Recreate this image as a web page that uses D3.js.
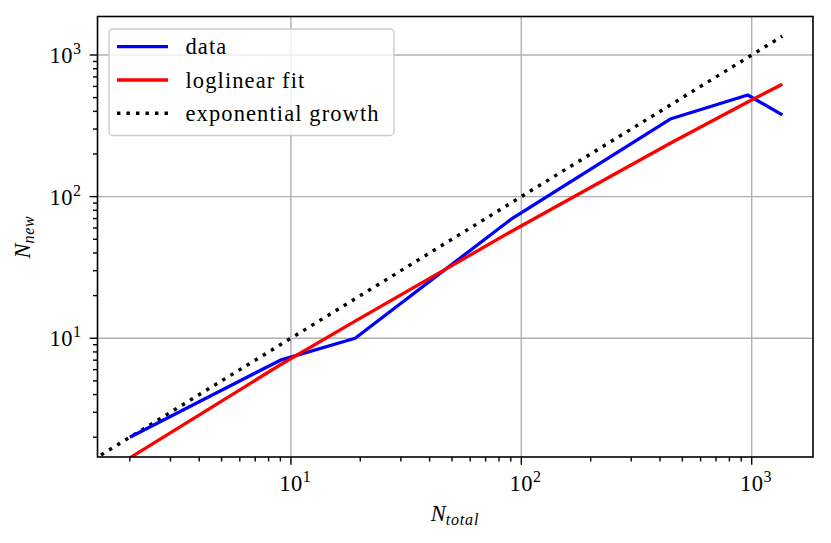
<!DOCTYPE html>
<html lang="en">
<head>
    <meta charset="UTF-8">
    <title>N_new vs N_total</title>
    <script src="https://d3js.org/d3.v7.min.js"></script>
    <style>
        body { margin: 0; background: #fff; }
        text { font-family: "Liberation Serif", "DejaVu Serif", serif; fill: #000; }
    </style>
</head>
<body>
<script>
// values
var nTotal = [2, 9, 19, 90, 443, 961, 1358];
var nNew = [2, 7, 10, 69, 353, 522, 378];
var fitNew = [1.43, 6.5, 13.2, 56.5, 238, 466, 621];
var expX = [1, 1358];
var majorTicks = [10, 100, 1000];
var legendLabels = ["data", "loglinear fit", "exponential growth"];

var W = 831, H = 543;
// plot box (note: "top" is reserved on window, so use pL/pR/pT/pB)
var pL = 97.5, pR = 813, pT = 16.5, pB = 457;

var svg = d3.select("body").append("svg")
    .attr("width", W)
    .attr("height", H);

var x = d3.scaleLog().domain([1.447, 1845]).range([pL, pR]);
var y = d3.scaleLog().domain([1.45, 1870]).range([pB, pT]);

// minor tick positions between the domain ends
function minorTicks(dom) {
    var out = [];
    for (var e = 0; e < 4; e++) {
        for (var m = 2; m < 10; m++) {
            var v = m * Math.pow(10, e);
            if (v >= dom[0] && v <= dom[1]) out.push(v);
        }
    }
    return out;
}

svg.append("defs").append("clipPath").attr("id", "plot")
    .append("rect")
    .attr("x", pL).attr("y", pT)
    .attr("width", pR - pL).attr("height", pB - pT);

// grid
var grid = svg.append("g").attr("stroke", "#b0b0b0").attr("stroke-width", 1.4);
grid.selectAll(".gx").data(majorTicks).enter().append("line")
    .attr("x1", d => x(d)).attr("x2", d => x(d))
    .attr("y1", pT).attr("y2", pB);
grid.selectAll(".gy").data(majorTicks).enter().append("line")
    .attr("y1", d => y(d)).attr("y2", d => y(d))
    .attr("x1", pL).attr("x2", pR);

// series
var line = d3.line().x(d => x(d[0])).y(d => y(d[1]));
var plot = svg.append("g").attr("clip-path", "url(#plot)").attr("fill", "none");

plot.append("path")
    .attr("d", line(expX.map(v => [v, v])))
    .attr("stroke", "#000")
    .attr("stroke-width", 3.4)
    .attr("stroke-dasharray", "3.4,6.1");

plot.append("path")
    .attr("d", line(nTotal.map((v, i) => [v, nNew[i]])))
    .attr("stroke", "#0000ff")
    .attr("stroke-width", 3.3)
    .attr("stroke-linejoin", "round");

plot.append("path")
    .attr("d", line(nTotal.map((v, i) => [v, fitNew[i]])))
    .attr("stroke", "#ff0000")
    .attr("stroke-width", 3.3)
    .attr("stroke-linejoin", "round");

// axes ticks
var ticks = svg.append("g").attr("stroke", "#000").attr("stroke-width", 1.4);
ticks.selectAll(".mx").data(minorTicks(x.domain())).enter().append("line")
    .attr("x1", d => x(d)).attr("x2", d => x(d))
    .attr("y1", pB).attr("y2", pB + 4.5);
ticks.selectAll(".Mx").data(majorTicks).enter().append("line")
    .attr("x1", d => x(d)).attr("x2", d => x(d))
    .attr("y1", pB).attr("y2", pB + 7.8);
ticks.selectAll(".my").data(minorTicks(y.domain())).enter().append("line")
    .attr("y1", d => y(d)).attr("y2", d => y(d))
    .attr("x1", pL).attr("x2", pL - 4.5);
ticks.selectAll(".My").data(majorTicks).enter().append("line")
    .attr("y1", d => y(d)).attr("y2", d => y(d))
    .attr("x1", pL).attr("x2", pL - 7.8);

// tick labels 10^k
function powLabel(sel) {
    sel.append("tspan").text("10").attr("font-size", 22.5).attr("letter-spacing", 0.5);
    sel.append("tspan").text(d => Math.round(Math.log10(d)))
        .attr("font-size", 16).attr("dy", -9);
}
svg.selectAll(".lx").data(majorTicks).enter().append("text")
    .attr("x", d => x(d) + 4).attr("y", 491)
    .attr("text-anchor", "middle")
    .call(powLabel);
svg.selectAll(".ly").data(majorTicks).enter().append("text")
    .attr("x", 81).attr("y", d => y(d) + 8)
    .attr("text-anchor", "end")
    .call(powLabel);

// frame
svg.append("rect")
    .attr("x", pL).attr("y", pT)
    .attr("width", pR - pL).attr("height", pB - pT)
    .attr("fill", "none").attr("stroke", "#000").attr("stroke-width", 1.6);

// axis labels
var xl = svg.append("text").attr("x", 455).attr("y", 521).attr("text-anchor", "middle")
    .attr("font-style", "italic");
xl.append("tspan").text("N").attr("font-size", 22.5);
xl.append("tspan").text("total").attr("font-size", 16).attr("dy", 4).attr("letter-spacing", 0.8);

var yl = svg.append("text").attr("transform", "translate(30,237) rotate(-90)")
    .attr("text-anchor", "middle").attr("font-style", "italic");
yl.append("tspan").text("N").attr("font-size", 22.5);
yl.append("tspan").text("new").attr("font-size", 16).attr("dy", 4).attr("letter-spacing", 0.8);

// legend
var lg = svg.append("g");
lg.append("rect")
    .attr("x", 109).attr("y", 29).attr("width", 285).attr("height", 106.5)
    .attr("rx", 4)
    .attr("fill", "#fff").attr("fill-opacity", 0.8)
    .attr("stroke", "#cccccc").attr("stroke-width", 1.4);
var legStyles = [
    { color: "#0000ff", dash: null },
    { color: "#ff0000", dash: null },
    { color: "#000", dash: "3.4,6.1" }
];
var rows = lg.selectAll(".row").data(legendLabels).enter().append("g")
    .attr("transform", (d, i) => "translate(0," + (46.7 + i * 33.3) + ")");
rows.append("line")
    .attr("x1", 117).attr("x2", 168)
    .attr("stroke", (d, i) => legStyles[i].color)
    .attr("stroke-width", (d, i) => i == 2 ? 3.4 : 3.3)
    .attr("stroke-dasharray", (d, i) => legStyles[i].dash);
rows.append("text")
    .attr("x", 185.5).attr("y", 7.5)
    .attr("font-size", 22.5)
    .attr("letter-spacing", 1.1)
    .text(d => d);
</script>
</body>
</html>
